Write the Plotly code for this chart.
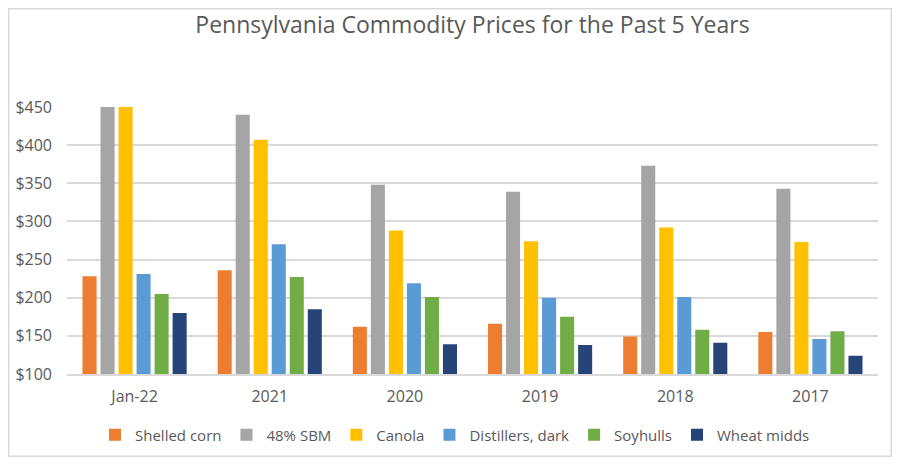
import plotly.graph_objects as go

# categories along the x axis (most recent first)
periods = ["Jan-22", "2021", "2020", "2019", "2018", "2017"]

# $ per ton (Jan-22 SBM and canola run past the $450 top)
shelled_corn = [228, 236, 162, 166, 149, 155]
sbm_48 = [470, 440, 348, 339, 373, 343]
canola = [460, 407, 288, 274, 292, 273]
distillers_dark = [231, 270, 219, 200, 201, 146]
soyhulls = [205, 227, 201, 175, 158, 156]
wheat_midds = [180, 185, 139, 138, 141, 124]

series_names = ["Shelled corn", "48% SBM", "Canola", "Distillers, dark", "Soyhulls", "Wheat midds"]
series_values = [shelled_corn, sbm_48, canola, distillers_dark, soyhulls, wheat_midds]
colors = ["#ED7D31", "#A5A5A5", "#FFC000", "#5B9BD5", "#70AD47", "#264478"]

y_ticks = list(range(100, 451, 50))
y_tick_labels = [f"${v}" for v in y_ticks]

text_color = "#595959"
grid_color = "#D9D9D9"

fig = go.Figure()
for name, values, color in zip(series_names, series_values, colors):
    fig.add_trace(go.Bar(x=periods, y=values, name=name, marker=dict(color=color, line_width=0)))

# the page has an 8px body margin, so the figure is 884x449 at (8, 8)
W, H = 884, 449
L, R, T, B = 59, 14, 99, 83
pw, ph = W - L - R, H - T - B

fig.update_layout(
    width=W,
    height=H,
    barmode="group",
    bargap=0.2,
    bargroupgap=0.22,
    plot_bgcolor="white",
    paper_bgcolor="white",
    margin=dict(l=L, r=R, t=T, b=B, autoexpand=False),
    font=dict(family="Open Sans, Liberation Sans, sans-serif", color=text_color, size=15),
    title=dict(
        text="Pennsylvania Commodity Prices for the Past 5 Years",
        font=dict(size=23, color=text_color),
        x=0.5, xref="paper", xanchor="center",
        y=1 - 17 / H, yref="container", yanchor="middle",
    ),
    legend=dict(
        orientation="h",
        x=447 / W, xref="container", xanchor="center",
        y=1 - 427 / H, yref="container", yanchor="middle",
        font=dict(size=15, color=text_color),
        itemwidth=30,
        traceorder="normal",
    ),
    xaxis=dict(
        type="category",
        showgrid=False,
        showline=True,
        linecolor=grid_color,
        linewidth=1.5,
        ticks="",
        ticklabelstandoff=7,
        tickfont=dict(size=16, color=text_color),
    ),
    yaxis=dict(
        range=[100, 450],
        tickmode="array",
        tickvals=y_ticks,
        ticktext=y_tick_labels,
        showgrid=True,
        gridcolor=grid_color,
        gridwidth=1.5,
        zeroline=False,
        showline=False,
        ticks="",
        ticklabelstandoff=14,
        tickfont=dict(size=16, color=text_color),
    ),
    shapes=[
        dict(
            type="rect", xref="paper", yref="paper",
            x0=(0.75 - L) / pw, x1=(W - 0.75 - L) / pw,
            y0=(H - B - (H - 0.75)) / ph, y1=(H - B - 0.75) / ph,
            line=dict(color=grid_color, width=1.5),
            fillcolor="rgba(0,0,0,0)",
            layer="below",
        )
    ],
)

fig.write_html("out.html")
